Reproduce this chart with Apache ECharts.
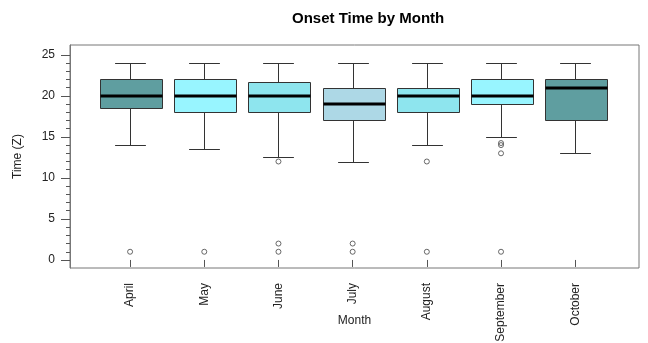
<!DOCTYPE html>
<html>
<head>
<meta charset="utf-8">
<script src="https://cdn.jsdelivr.net/npm/echarts@6/dist/echarts.min.js"></script>
<style>
html,body{margin:0;padding:0;background:#fff;}
#chart{width:648px;height:343px;}
</style>
</head>
<body>
<div id="chart"></div>
<script>
// ---- data ----
const months = ['April', 'May', 'June', 'July', 'August', 'September', 'October'];
const lowerWhisker = [14, 13.5, 12.5, 12, 14, 15, 13];
const lowerQuartile = [18.5, 18, 18, 17, 18, 19, 17];
const medians = [20, 20, 20, 19, 20, 20, 21];
const upperQuartile = [22, 22, 21.75, 21, 21, 22, 22];
const upperWhisker = [24, 24, 24, 24, 24, 24, 24];
const outliers = [[1], [1], [1, 2, 12], [1, 2], [1, 12], [1, 13, 14, 14.25], []];
const yTickLabels = [0, 5, 10, 15, 20, 25];
const yMinorTicks = [0,1,2,3,4,5,6,7,8,9,10,11,12,13,14,15,16,17,18,19,20,21,22,23,24,25];

// ---- styles ----
const boxColors = ['#5F9EA0', '#98F5FF', '#8EE5EE', '#ADD8E6', '#8EE5EE', '#98F5FF', '#5F9EA0'];
const FONT = 'Liberation Sans, Arial, sans-serif';
const TEXT = '#222';

const boxData = months.map((m, i) => [i + 1, lowerWhisker[i], lowerQuartile[i], medians[i], upperQuartile[i], upperWhisker[i], i]);
const outlierData = [];
outliers.forEach((arr, i) => arr.forEach(v => outlierData.push([i + 1, v])));
const xPositions = months.map((m, i) => i + 1);

function r(v) { return Math.round(v) + 0.5; }

function renderBox(params, api) {
  const x = api.value(0);
  const idx = api.value(6);
  const lo = api.coord([x, api.value(1)]);
  const q1 = api.coord([x, api.value(2)]);
  const md = api.coord([x, api.value(3)]);
  const q3 = api.coord([x, api.value(4)]);
  const hi = api.coord([x, api.value(5)]);
  const w = api.size([0.83, 0])[0];
  const cx = r(lo[0]);
  const half = w / 2;
  const stroke = '#333';
  const lineStyle = { stroke: stroke, lineWidth: 1 };
  return {
    type: 'group',
    children: [
      { type: 'line', shape: { x1: cx, y1: r(q3[1]), x2: cx, y2: r(hi[1]) }, style: lineStyle },
      { type: 'line', shape: { x1: cx, y1: r(q1[1]), x2: cx, y2: r(lo[1]) }, style: lineStyle },
      { type: 'line', shape: { x1: cx - half / 2, y1: r(hi[1]), x2: cx + half / 2, y2: r(hi[1]) }, style: lineStyle },
      { type: 'line', shape: { x1: cx - half / 2, y1: r(lo[1]), x2: cx + half / 2, y2: r(lo[1]) }, style: lineStyle },
      { type: 'rect', shape: { x: Math.round(cx - half) + 0.5, y: r(q3[1]), width: Math.round(w), height: Math.round(q1[1]) - Math.round(q3[1]) },
        style: { fill: boxColors[idx], stroke: stroke, lineWidth: 1 } },
      { type: 'line', shape: { x1: Math.round(cx - half) + 0.5, y1: Math.round(md[1]), x2: Math.round(cx - half) + 0.5 + Math.round(w), y2: Math.round(md[1]) },
        style: { stroke: '#000', lineWidth: 3 } }
    ]
  };
}

const chart = echarts.init(document.getElementById('chart'), null, { renderer: 'canvas' });
chart.setOption({
  animation: false,
  backgroundColor: '#fff',
  textStyle: { fontFamily: FONT },
  title: {
    text: 'Onset Time by Month',
    left: 287, top: 6,
    textStyle: { fontFamily: FONT, fontSize: 15, fontWeight: 'bold', color: '#000' }
  },
  grid: {
    left: 70, right: 9, top: 45, bottom: 75,
    outerBoundsMode: 'none', containLabel: false,
    show: true, borderColor: '#777', borderWidth: 1, backgroundColor: 'transparent'
  },
  xAxis: [{
    type: 'value', min: 0.19, max: 7.86,
    axisLine: { show: false },
    splitLine: { show: false },
    axisTick: { show: true, customValues: xPositions, length: 7, lineStyle: { color: '#555' } },
    axisLabel: {
      customValues: xPositions, rotate: 90, margin: 15,
      formatter: v => months[Math.round(v) - 1],
      fontSize: 12, color: TEXT, fontFamily: FONT
    },
    name: 'Month', nameLocation: 'middle', nameGap: 47, nameMoveOverlap: false,
    nameTextStyle: { fontSize: 12, color: TEXT, fontFamily: FONT }
  }],
  yAxis: [{
    type: 'value', min: -0.98, max: 26.2,
    axisLine: { show: true, lineStyle: { color: '#777' } },
    splitLine: { show: false },
    axisTick: { show: true, customValues: yTickLabels, length: 9, lineStyle: { color: '#555' } },
    axisLabel: { customValues: yTickLabels, margin: 15, fontSize: 12, color: TEXT, fontFamily: FONT },
    name: 'Time (Z)', nameLocation: 'middle', nameGap: 46, nameRotate: 90, nameMoveOverlap: false,
    nameTextStyle: { fontSize: 12, color: TEXT, fontFamily: FONT }
  }, {
    type: 'value', min: -0.98, max: 26.2, position: 'left',
    axisLine: { show: false },
    splitLine: { show: false },
    axisLabel: { show: false },
    axisTick: { show: true, customValues: yMinorTicks, length: 4, lineStyle: { color: '#555' } }
  }],
  series: [{
    type: 'custom',
    xAxisIndex: 0, yAxisIndex: 0,
    renderItem: renderBox,
    encode: { x: 0, y: [1, 2, 3, 4, 5] },
    data: boxData
  }, {
    type: 'scatter',
    xAxisIndex: 0, yAxisIndex: 0,
    symbol: 'circle', symbolSize: 5,
    itemStyle: { color: 'rgba(0,0,0,0)', borderColor: '#444', borderWidth: 1 },
    data: outlierData
  }]
});
</script>
</body>
</html>
